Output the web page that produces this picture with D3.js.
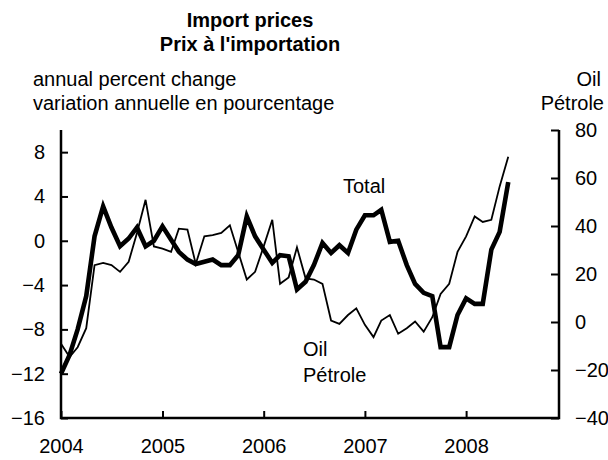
<!DOCTYPE html>
<html>
<head>
<meta charset="utf-8">
<script src="https://cdn.jsdelivr.net/npm/d3@7/dist/d3.min.js"></script>
<style>
  html, body { margin: 0; padding: 0; background: #fff; }
  svg { display: block; font-family: "Liberation Sans", Arial, sans-serif; }
</style>
</head>
<body>
<svg id="chart" width="608" height="460"></svg>
<script>
// Monthly observations, January 2004 to June 2008
const months = d3.timeMonth.range(new Date(2004, 0, 1), new Date(2008, 6, 1));

// Total import prices, annual % change (left axis)
const totalValues = [
  -12.0, -10.3, -8.0, -5.0, 0.4, 3.1, 1.2, -0.5, 0.2, 1.2, -0.5, 0.0,
  1.3, 0.1, -1.0, -1.7, -2.1, -1.9, -1.7, -2.2, -2.2, -1.3, 2.2, 0.4,
  -0.8, -2.0, -1.3, -1.4, -4.4, -3.7, -2.2, -0.2, -1.1, -0.4, -1.1, 1.0,
  2.3, 2.3, 2.8, -0.1, 0.0, -2.2, -3.9, -4.7, -5.0, -9.6, -9.6, -6.7,
  -5.2, -5.7, -5.7, -0.8, 0.8, 5.3
];

// Oil import prices, annual % change (right axis)
const oilValues = [
  -9.1, -14.6, -10.5, -2.6, 23.7, 24.6, 23.7, 20.9, 25.1, 37.1, 50.9, 31.5,
  30.6, 29.2, 38.9, 38.5, 24.2, 35.7, 36.2, 37.1, 40.3, 29.2, 17.7, 20.9,
  31.5, 42.6, 15.9, 18.6, 31.1, 18.2, 17.7, 15.9, 0.6, -0.8, 2.9, 5.7,
  -1.2, -6.3, 0.6, 2.9, -4.9, -2.6, 0.2, -4.0, 2.0, 11.7, 15.9, 29.2,
  35.7, 44.0, 41.7, 42.6, 56.5, 68.9
];

const yearTicks = [2004, 2005, 2006, 2007, 2008];
const leftTicks = [-16, -12, -8, -4, 0, 4, 8];
const rightTicks = [-40, -20, 0, 20, 40, 60, 80];

const svg = d3.select("#chart");
const plot = { left: 61, right: 559, top: 130, bottom: 418 };

const x = d3.scaleTime()
  .domain([new Date(2004, 0, 1), new Date(2008, 11, 1)])
  .range([plot.left, plot.right]);
const yLeft = d3.scaleLinear().domain([-16, 10]).range([plot.bottom, plot.top]);
const yRight = d3.scaleLinear().domain([-40, 80]).range([plot.bottom, plot.top]);

const fontSize = 20;

// Lines
const totalLine = d3.line()
  .x((d, i) => x(months[i]))
  .y(d => yLeft(d));
const oilLine = d3.line()
  .x((d, i) => x(months[i]))
  .y(d => yRight(d));

svg.append("path")
  .datum(oilValues)
  .attr("d", oilLine)
  .attr("fill", "none")
  .attr("stroke", "#000")
  .attr("stroke-width", 1.8)
  .attr("stroke-linejoin", "miter");

svg.append("path")
  .datum(totalValues)
  .attr("d", totalLine)
  .attr("fill", "none")
  .attr("stroke", "#000")
  .attr("stroke-width", 4.6)
  .attr("stroke-linejoin", "miter");

// Axes
function styleAxis(g) {
  g.select(".domain").remove();
  g.selectAll(".tick line").attr("stroke", "#000").attr("stroke-width", 2);
  g.selectAll(".tick text")
    .attr("fill", "#000")
    .style("font-size", fontSize + "px")
    .style("font-family", "'Liberation Sans', Arial, sans-serif");
}

const gx = svg.append("g")
  .attr("transform", `translate(0,${plot.bottom})`)
  .call(d3.axisBottom(x)
    .tickValues(yearTicks.map(yr => new Date(yr, 0, 1)))
    .tickFormat(d3.timeFormat("%Y"))
    .tickSizeInner(-7).tickSizeOuter(0).tickPadding(21));
styleAxis(gx);

const gl = svg.append("g")
  .attr("transform", `translate(${plot.left},0)`)
  .call(d3.axisLeft(yLeft)
    .tickValues(leftTicks)
    .tickSizeInner(-7).tickSizeOuter(0).tickPadding(16));
styleAxis(gl);

const gr = svg.append("g")
  .attr("transform", `translate(${plot.right},0)`)
  .call(d3.axisRight(yRight)
    .tickValues(rightTicks)
    .tickSizeInner(-8).tickSizeOuter(0).tickPadding(16));
styleAxis(gr);

// Frame lines: left, bottom, right
svg.append("path")
  .attr("d", `M${plot.left},${plot.top}V${plot.bottom}H${plot.right}V${plot.top}`)
  .attr("fill", "none")
  .attr("stroke", "#000")
  .attr("stroke-width", 2.5);

// Titles and labels
const txt = (s, px, py, anchor, bold) => svg.append("text")
  .attr("x", px).attr("y", py)
  .attr("text-anchor", anchor || "start")
  .style("font-size", fontSize + "px")
  .style("font-weight", bold ? "bold" : "normal")
  .attr("fill", "#000")
  .text(s);

txt("Import prices", 250, 27, "middle", true);
txt("Prix à l'importation", 250, 51, "middle", true);
txt("annual percent change", 33, 86, "start");
txt("variation annuelle en pourcentage", 33, 110, "start");
txt("Oil", 601, 86, "end");
txt("Pétrole", 604, 110, "end");
txt("Total", 343, 193, "start");
txt("Oil", 303, 356, "start");
txt("Pétrole", 303, 382, "start");
</script>
</body>
</html>
